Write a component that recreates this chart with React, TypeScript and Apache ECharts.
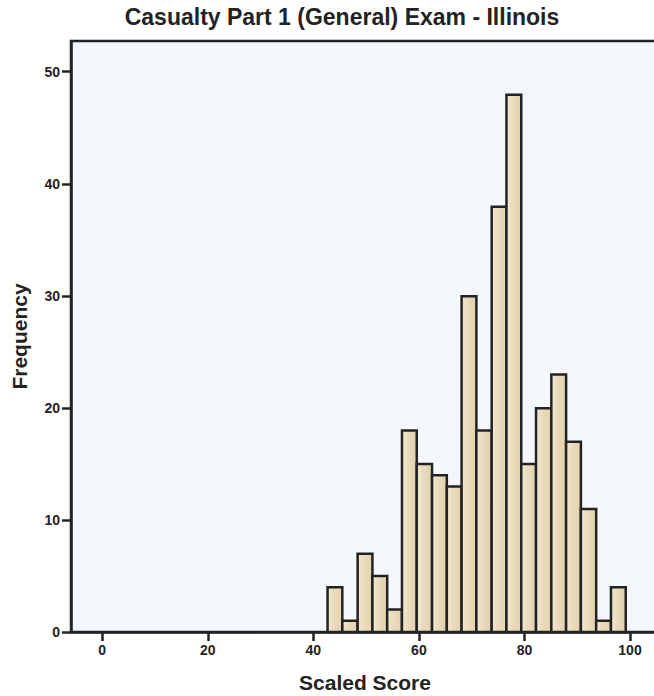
import React, { useEffect, useRef } from "react";
import * as echarts from "echarts";

const titleText = "Casualty Part 1 (General) Exam - Illinois";
const xAxisName = "Scaled Score";
const yAxisName = "Frequency";

// histogram bin edges (scaled score)
const binEdges = [
  42.7, 45.5, 48.4, 51.2, 54.0, 56.8, 59.6, 62.5, 65.3, 68.1, 70.9,
  73.8, 76.6, 79.4, 82.2, 85.1, 87.9, 90.7, 93.6, 96.4, 99.2,
];
// frequency of each bin
const counts = [4, 1, 7, 5, 2, 18, 15, 14, 13, 30, 18, 38, 48, 15, 20, 23, 17, 11, 1, 4];

// axis ranges and tick spacing
const xRange = [-5.91, 105.5];
const yRange = [0, 52.8];
const xTickRange = [0, 100];
const yTickRange = [0, 50];
const xTickStep = 20;
const yTickStep = 10;

const FONT = "'Liberation Sans', Arial, Helvetica, sans-serif";
const INK = "#232323";

export default function App() {
  const ref = useRef<HTMLDivElement>(null);

  useEffect(() => {
    if (!ref.current) return;
    const chart = echarts.init(ref.current, undefined, { renderer: "svg" });
    const data = counts.map((c, i) => [binEdges[i], binEdges[i + 1], c]);

    const labelStyle = {
      fontFamily: FONT,
      fontWeight: "bold",
      fontSize: 14,
      color: INK,
    };

    chart.setOption({
      animation: false,
      backgroundColor: "#ffffff",
      graphic: [
        {
          type: "text",
          x: 342,
          y: 17,
          style: {
            text: titleText,
            font: `bold 23px ${FONT}`,
            fill: INK,
            textAlign: "center",
            textVerticalAlign: "middle",
          },
        },
      ],
      grid: [
        {
          // main plot area
          left: 71,
          top: 41,
          right: -5,
          bottom: 64,
          show: true,
          backgroundColor: "#f4f7fb",
          borderColor: INK,
          borderWidth: 2.5,
          containLabel: false,
          outerBoundsMode: "none",
        },
        {
          // x ticks: values 0..100 of the main x axis
          left: 102.2,
          right: 24,
          top: 41,
          bottom: 64,
          show: false,
          containLabel: false,
          outerBoundsMode: "none",
        },
        {
          // y ticks: values 0..50 of the main y axis
          left: 71,
          right: -5,
          top: 71.7,
          bottom: 64,
          show: false,
          containLabel: false,
          outerBoundsMode: "none",
        },
      ],
      xAxis: [
        {
          gridIndex: 0,
          type: "value",
          min: xRange[0],
          max: xRange[1],
          name: xAxisName,
          nameLocation: "middle",
          nameGap: 40,
          nameTextStyle: { fontFamily: FONT, fontWeight: "bold", fontSize: 21, color: INK },
          axisLine: { show: true, onZero: false, lineStyle: { color: INK, width: 2.5 } },
          axisTick: { show: false },
          axisLabel: { show: false },
          splitLine: { show: false },
        },
        {
          gridIndex: 1,
          type: "value",
          position: "bottom",
          min: xTickRange[0],
          max: xTickRange[1],
          interval: xTickStep,
          axisLine: { show: true, onZero: false, lineStyle: { color: "rgba(0,0,0,0)", width: 1 } },
          axisTick: { show: true, inside: false, length: 9, lineStyle: { color: INK, width: 2.5 } },
          axisLabel: { ...labelStyle, margin: 11 },
          splitLine: { show: false },
        },
        {
          gridIndex: 2,
          type: "value",
          show: false,
        },
      ],
      yAxis: [
        {
          gridIndex: 0,
          type: "value",
          min: yRange[0],
          max: yRange[1],
          name: yAxisName,
          nameLocation: "middle",
          nameGap: 41,
          nameRotate: 90,
          nameTextStyle: { fontFamily: FONT, fontWeight: "bold", fontSize: 21, color: INK },
          axisLine: { show: true, onZero: false, lineStyle: { color: INK, width: 2.5 } },
          axisTick: { show: false },
          axisLabel: { show: false },
          splitLine: { show: false },
        },
        {
          gridIndex: 1,
          type: "value",
          show: false,
        },
        {
          gridIndex: 2,
          type: "value",
          position: "left",
          min: yTickRange[0],
          max: yTickRange[1],
          interval: yTickStep,
          axisLine: { show: true, onZero: false, lineStyle: { color: "rgba(0,0,0,0)", width: 1 } },
          axisTick: { show: true, inside: false, length: 9, lineStyle: { color: INK, width: 2.5 } },
          axisLabel: { ...labelStyle, margin: 11 },
          splitLine: { show: false },
        },
      ],
      series: [
        {
          type: "custom",
          xAxisIndex: 0,
          yAxisIndex: 0,
          data,
          encode: { x: [0, 1], y: 2 },
          renderItem: (params: any, api: any) => {
            const x0 = api.value(0);
            const x1 = api.value(1);
            const c = api.value(2);
            const p0 = api.coord([x0, c]);
            const p1 = api.coord([x1, 0]);
            return {
              type: "rect",
              shape: { x: p0[0], y: p0[1], width: p1[0] - p0[0], height: p1[1] - p0[1] },
              style: {
                fill: new echarts.graphic.LinearGradient(0, 0, 1, 0, [
                  { offset: 0, color: "#f3ead6" },
                  { offset: 0.4, color: "#e9dcbd" },
                  { offset: 1, color: "#e2d2ad" },
                ]),
                stroke: INK,
                lineWidth: 2.5,
              },
            };
          },
        },
      ],
    });

    return () => chart.dispose();
  }, []);

  return (
    <div
      ref={ref}
      style={{ position: "absolute", left: 0, top: 0, width: 654, height: 696, background: "#fff" }}
    />
  );
}
